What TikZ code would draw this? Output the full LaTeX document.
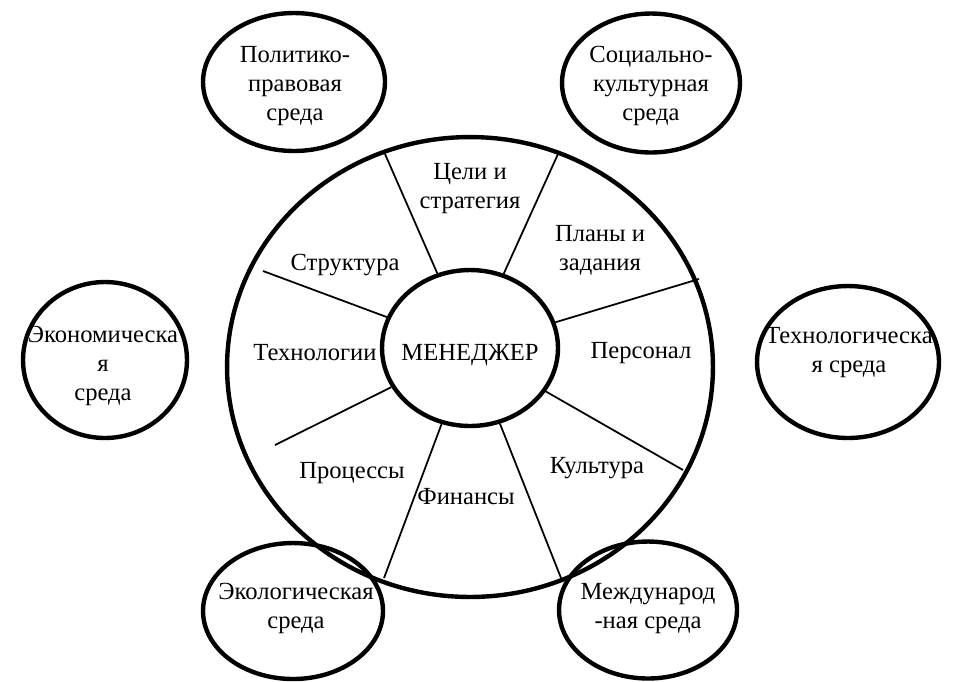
\documentclass[tikz,border=0pt]{standalone}
\usepackage{fontspec}
\setmainfont{Liberation Serif}
\usepackage{tikz}
\usetikzlibrary{shapes.geometric}

\begin{document}
\begin{tikzpicture}[x=0.02cm,y=-0.02cm,
env/.style={ellipse,draw,line width=2.5pt,inner sep=0pt},
sec/.style={align=center,font=\fontsize{14}{16.5}\selectfont},
spoke/.style={line width=1pt}]
\useasboundingbox (0,0) rectangle (972,681);

% organisation and manager
\node[env,minimum width=9.72cm,minimum height=9.2cm] (org) at (470,367) {};
\node[env,minimum width=3.52cm,minimum height=3.12cm] (mgr) at (470,348) {};
\node[sec] (mgrtxt) at (470,355) {МЕНЕДЖЕР};

% external environment
\node[env,minimum width=3.64cm,minimum height=2.76cm] (pol) at (294,82) {};
\node[env,minimum width=3.56cm,minimum height=2.78cm] (soc) at (651,83) {};
\node[env,minimum width=3.28cm,minimum height=3.12cm] (eco) at (105,360) {};
\node[env,minimum width=3.64cm,minimum height=3.04cm] (tech) at (848,362) {};
\node[env,minimum width=3.6cm,minimum height=2.72cm] (ecol) at (293,611) {};
\node[env,minimum width=3.56cm,minimum height=2.74cm] (intl) at (648,610) {};
\node[sec] at (295,86) {Политико-\\правовая\\среда};
\node[sec] at (651,86) {Социально-\\культурная\\среда};
\node[sec] at (103,366) {Экономическа\\я\\среда};
\node[sec] at (849,353) {Технологическа\\я среда};
\node[sec] at (296,608) {Экологическая\\среда};
\node[sec] at (648,609) {Международ\\-ная среда};

% internal sectors
\node[sec] (goal) at (470,189) {Цели и\\стратегия};
\node[sec] (plan) at (600,250) {Планы и\\задания};
\node[sec] (str) at (345,265) {Структура};
\node[sec] (techn) at (315,353) {Технологии};
\node[sec] (pers) at (641,353) {Персонал};
\node[sec] (proc) at (352,473) {Процессы};
\node[sec] (fin) at (466,497) {Финансы};
\node[sec] (cult) at (597,468) {Культура};

\coordinate (o1) at (385,154);
\coordinate (o2) at (558,154);
\coordinate (o3) at (699,279);
\coordinate (o4) at (683,470);
\coordinate (o5) at (561,578);
\coordinate (o6) at (384,578);
\coordinate (o7) at (275,445);
\coordinate (o8) at (263,271);
\draw[spoke] (o1) -- (mgr) (o2) -- (mgr) (o3) -- (mgr) (o4) -- (mgr)
  (o5) -- (mgr) (o6) -- (mgr) (o7) -- (mgr) (o8) -- (mgr);
\end{tikzpicture}
\end{document}
